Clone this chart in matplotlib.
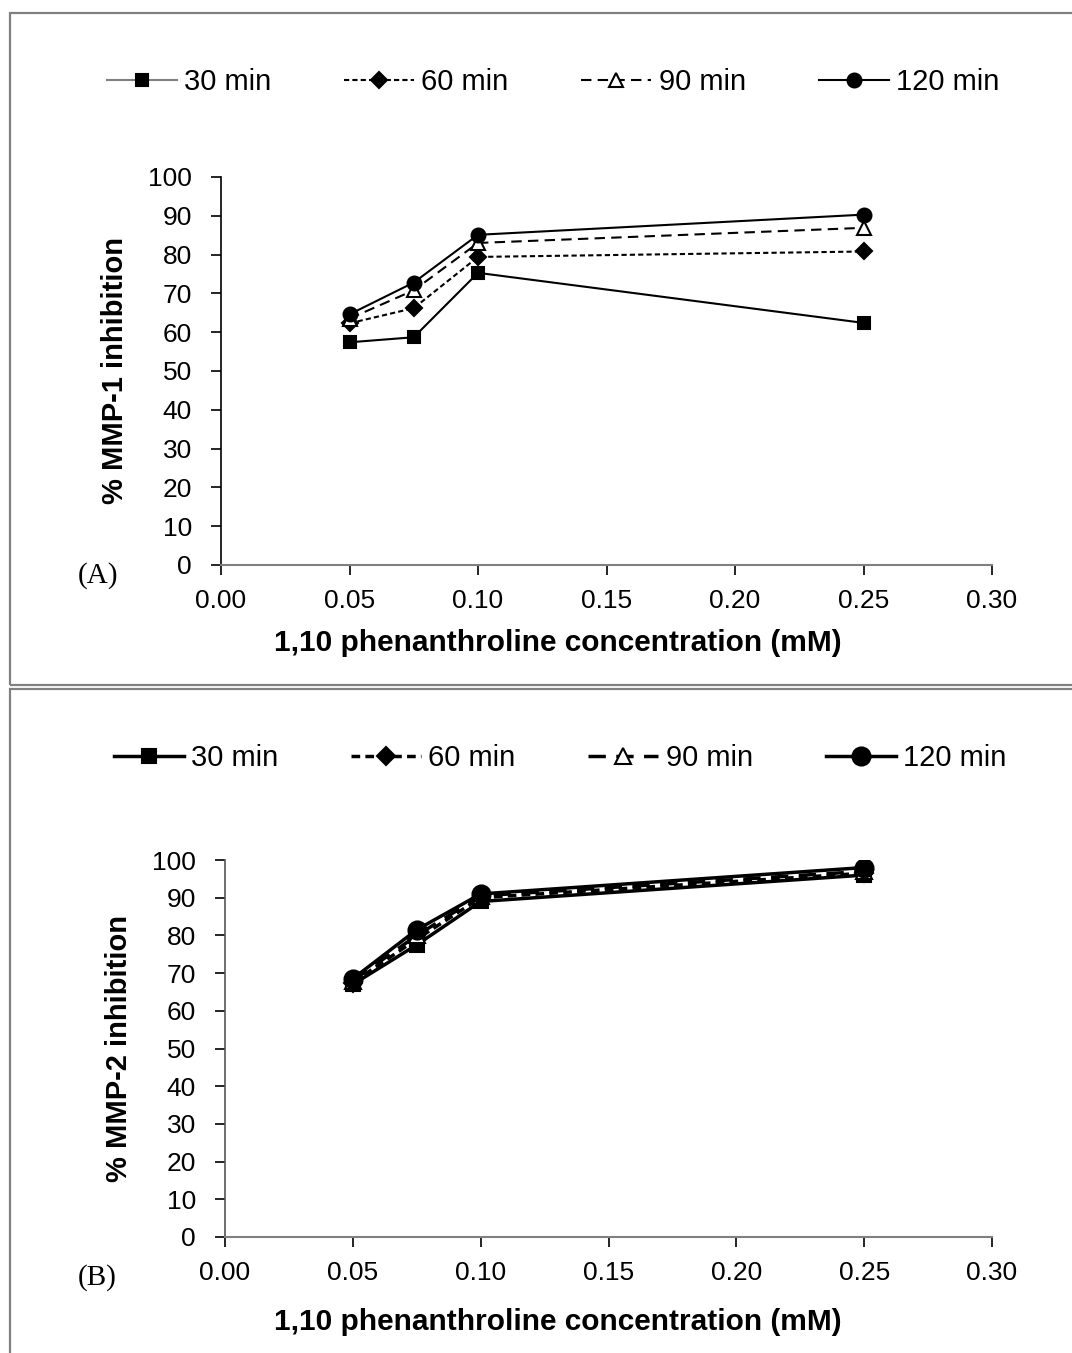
import matplotlib
matplotlib.use("Agg")
import matplotlib.pyplot as plt
from matplotlib.patches import Rectangle
from matplotlib.ticker import FormatStrFormatter

plt.rcParams['font.family'] = ['Liberation Sans', 'DejaVu Sans']

conc = [0.05, 0.075, 0.10, 0.25]
series_labels = ["30 min", "60 min", "90 min", "120 min"]

mmp1_30 = [57.4, 58.7, 75.3, 62.4]
mmp1_60 = [62.3, 66.2, 79.4, 80.8]
mmp1_90 = [63.5, 70.8, 83.0, 86.9]
mmp1_120 = [64.6, 72.8, 85.1, 90.3]

mmp2_30 = [67.0, 77.5, 89.0, 96.0]
mmp2_60 = [67.5, 79.0, 90.0, 96.5]
mmp2_90 = [68.0, 80.0, 90.5, 97.0]
mmp2_120 = [68.5, 81.5, 91.0, 98.0]

y_ticks = list(range(0, 101, 10))
x_ticks = [0.00, 0.05, 0.10, 0.15, 0.20, 0.25, 0.30]
x_label = "1,10 phenanthroline concentration (mM)"

W, H = 1072, 1353
fig = plt.figure(figsize=(W / 100, H / 100), dpi=100)

# panel borders
fig.patches.append(Rectangle((10 / W, 1 - 685 / H), 1.1, (685 - 13) / H, transform=fig.transFigure,
                             fill=False, edgecolor='#808080', lw=1.6))
fig.patches.append(Rectangle((10 / W, -0.05), 1.1, 0.05 + 1 - 689 / H, transform=fig.transFigure,
                             fill=False, edgecolor='#808080', lw=1.6))

styles = [
    dict(ls='-', marker='s', mfc='black', mec='black'),
    dict(ls=(0, (2.5, 1.5)), marker='D', mfc='black', mec='black'),
    dict(ls=(0, (5, 3)), marker='^', mfc='white', mec='black'),
    dict(ls='-', marker='o', mfc='black', mec='black'),
]


def make_panel(rect, data, ylabel, tag, tag_y, legend_x, legend_y, xlabel_y, lw, msizes, left_color, gray_first):
    ax = fig.add_axes(rect)
    for vals, lab, st, ms in zip(data, series_labels, styles, msizes):
        ax.plot(conc, vals, color='black', lw=lw, ms=ms, mew=1.5, label=lab, **st)
    ax.set_xlim(0, 0.30)
    ax.set_ylim(0, 100)
    ax.set_xticks(x_ticks)
    ax.set_yticks(y_ticks)
    ax.xaxis.set_major_formatter(FormatStrFormatter('%.2f'))
    ax.tick_params(axis='both', labelsize=19, direction='out', length=7, width=1.2, colors='black')
    ax.tick_params(axis='x', pad=10)
    ax.tick_params(axis='y', pad=14)
    for s in ['top', 'right']:
        ax.spines[s].set_visible(False)
    ax.spines['bottom'].set_color('#808080')
    ax.spines['bottom'].set_linewidth(1.5)
    ax.spines['left'].set_color(left_color)
    ax.spines['left'].set_linewidth(1.2)
    fig.text(558 / W, 1 - xlabel_y / H, x_label, fontsize=21.5, fontweight='bold', ha='center', va='center')
    ax.set_ylabel(ylabel, fontsize=21, fontweight='bold', labelpad=14)
    fig.text(78 / W, 1 - tag_y / H, tag, fontsize=21, family='Liberation Serif', va='center')
    leg = ax.legend(loc='center', bbox_to_anchor=(legend_x / W, 1 - legend_y / H), bbox_transform=fig.transFigure,
                    ncol=4, frameon=False, fontsize=21, handlelength=2.4, handletextpad=0.25,
                    columnspacing=2.5)
    if gray_first:
        h = leg.get_lines()[0]
        h.set_color('#808080')
        h.set_markerfacecolor('black')
        h.set_markeredgecolor('black')
    return ax


make_panel([221 / W, 1 - 565 / H, (992 - 221) / W, (565 - 177) / H],
           [mmp1_30, mmp1_60, mmp1_90, mmp1_120], "% MMP-1 inhibition", "(A)", 576, 553, 82, 643,
           1.5, [9, 8, 10, 10], 'black', True)
make_panel([225 / W, 1 - 1237 / H, (992 - 225) / W, (1237 - 860) / H],
           [mmp2_30, mmp2_60, mmp2_90, mmp2_120], "% MMP-2 inhibition", "(B)", 1278, 560, 758, 1322,
           2.5, [10, 9, 11, 13], '#555555', False)

fig.savefig("out.png", dpi=100)
